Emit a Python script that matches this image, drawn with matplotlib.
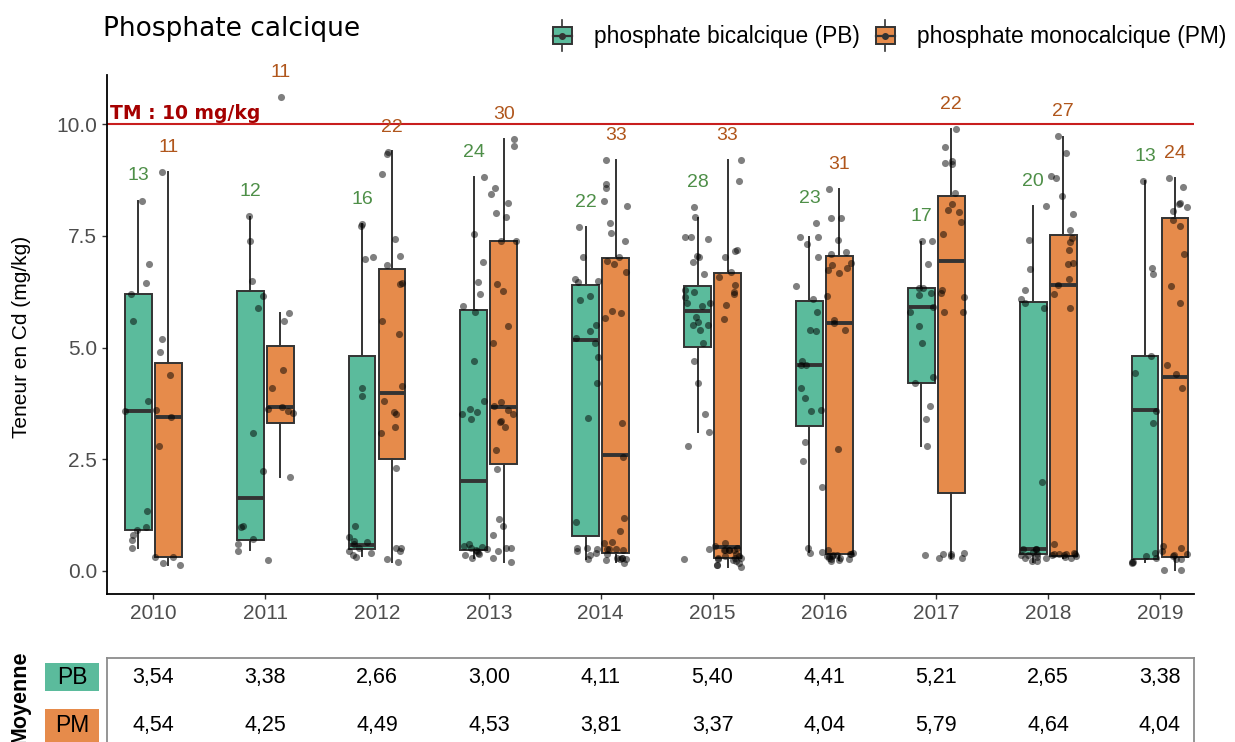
import numpy as np
import matplotlib
matplotlib.use("Agg")
import matplotlib.pyplot as plt
from matplotlib.patches import Rectangle
from matplotlib.lines import Line2D
from matplotlib.legend_handler import HandlerBase

plt.rcParams['font.family'] = ['Liberation Sans', 'DejaVu Sans']

years = [2010, 2011, 2012, 2013, 2014, 2015, 2016, 2017, 2018, 2019]
groups = ['phosphate bicalcique (PB)', 'phosphate monocalcique (PM)']

# effectifs par groupe
pb_n = [13, 12, 16, 24, 22, 28, 23, 17, 20, 13]
pm_n = [11, 11, 22, 30, 33, 33, 31, 22, 27, 24]

# boites : whislo, q1, mediane, q3, whishi
pb_box = [
    [0.51, 0.92, 3.59, 6.20, 8.28],
    [0.47, 0.69, 1.64, 6.27, 7.93],
    [0.33, 0.49, 0.58, 4.82, 7.77],
    [0.30, 0.46, 2.01, 5.84, 8.81],
    [0.26, 0.78, 5.16, 6.40, 7.69],
    [3.10, 5.01, 5.82, 6.37, 7.91],
    [0.42, 3.25, 4.60, 6.04, 7.47],
    [2.80, 4.20, 5.91, 6.34, 7.37],
    [0.21, 0.38, 0.49, 6.02, 8.16],
    [0.20, 0.27, 3.60, 4.82, 8.72],
]
pm_box = [
    [0.13, 0.32, 3.45, 4.66, 8.92],
    [2.11, 3.31, 3.66, 5.04, 5.77],
    [0.21, 2.50, 3.98, 6.76, 9.39],
    [0.21, 2.39, 3.66, 7.39, 9.66],
    [0.21, 0.41, 2.60, 7.01, 9.19],
    [0.10, 0.28, 0.53, 6.66, 9.19],
    [0.25, 0.38, 5.54, 7.05, 8.54],
    [0.28, 1.75, 6.93, 8.40, 9.89],
    [0.30, 0.34, 6.39, 7.52, 9.72],
    [0.02, 0.32, 4.35, 7.91, 8.79],
]

# valeurs individuelles
pb_pts = [
    [8.29, 6.87, 6.45, 6.20, 5.60, 3.80, 3.58, 1.34, 0.99, 0.92, 0.80, 0.69, 0.51],
    [7.94, 7.39, 6.49, 6.16, 5.89, 3.09, 2.24, 1.01, 0.99, 0.72, 0.60, 0.45],
    [7.77, 7.71, 7.03, 6.98, 4.10, 3.92, 1.01, 0.76, 0.68, 0.65, 0.60, 0.52, 0.45, 0.40, 0.35, 0.32],
    [8.82, 7.54, 6.92, 6.47, 6.20, 5.92, 5.80, 4.70, 3.80, 3.62, 3.55, 3.52, 3.40,
     0.60, 0.55, 0.53, 0.52, 0.50, 0.48, 0.45, 0.40, 0.38, 0.35, 0.28],
    [7.70, 7.03, 6.54, 6.49, 6.47, 6.16, 6.06, 5.51, 5.37, 5.22, 5.10, 4.79, 4.21, 3.43,
     1.10, 0.51, 0.50, 0.51, 0.45, 0.40, 0.35, 0.26],
    [8.15, 7.92, 7.48, 7.47, 7.42, 7.05, 7.03, 6.91, 6.65, 6.28, 6.25, 6.13, 5.99, 5.99,
     5.93, 5.69, 5.58, 5.51, 5.50, 5.40, 5.10, 4.70, 4.21, 3.52, 3.10, 2.80, 0.49, 0.27],
    [7.79, 7.48, 7.47, 7.31, 7.03, 6.38, 6.09, 5.80, 5.40, 5.36, 4.70, 4.61, 4.60, 4.10,
     3.87, 3.60, 3.59, 2.89, 2.46, 1.88, 0.51, 0.42, 0.40],
    [7.38, 7.38, 6.87, 6.34, 6.33, 6.22, 6.18, 5.91, 5.80, 5.48, 5.10, 4.35, 4.20, 3.70,
     3.40, 2.80, 0.36],
    [8.17, 7.41, 6.76, 6.29, 6.09, 5.99, 5.88, 1.99, 0.49, 0.49, 0.43, 0.49, 0.38, 0.36,
     0.29, 0.22, 0.22, 0.31, 0.28, 0.36],
    [8.73, 6.78, 6.64, 4.81, 4.43, 3.58, 3.31, 0.40, 0.33, 0.29, 0.21, 0.20, 0.18],
]
pm_pts = [
    [8.93, 5.19, 4.90, 4.39, 3.60, 3.45, 2.80, 0.31, 0.31, 0.18, 0.13],
    [10.60, 5.78, 5.60, 4.50, 4.10, 3.66, 3.62, 3.57, 3.53, 2.10, 0.25],
    [9.38, 9.33, 8.89, 7.43, 7.05, 6.85, 6.45, 6.42, 5.60, 5.30, 4.14, 3.80, 3.56, 3.52,
     3.22, 3.09, 2.31, 0.52, 0.52, 0.45, 0.26, 0.21],
    [9.67, 9.51, 8.57, 8.44, 8.24, 8.02, 7.92, 7.39, 7.39, 6.42, 6.27, 5.48, 5.10, 3.78,
     3.69, 3.60, 3.51, 3.36, 3.34, 3.22, 2.71, 2.28, 1.16, 1.01, 0.81, 0.52, 0.52, 0.45,
     0.30, 0.21],
    [9.20, 8.66, 8.57, 8.27, 8.17, 7.79, 7.56, 7.39, 7.03, 6.94, 6.87, 6.69, 5.82, 5.78,
     5.66, 3.31, 2.56, 1.19, 0.90, 0.65, 0.63, 0.50, 0.47, 0.50, 0.49, 0.29, 0.29, 0.26,
     0.25, 0.37, 0.18, 0.27, 0.30],
    [9.20, 8.73, 7.19, 7.17, 7.02, 6.69, 6.58, 6.40, 6.25, 6.20, 5.95, 5.64, 0.63, 0.55,
     0.52, 0.48, 0.47, 0.47, 0.47, 0.47, 0.38, 0.33, 0.33, 0.29, 0.29, 0.29, 0.26, 0.24,
     0.22, 0.18, 0.13, 0.13, 0.10],
    [8.55, 7.90, 7.90, 7.41, 7.15, 7.10, 6.89, 6.85, 6.78, 6.74, 6.67, 6.16, 5.62, 5.55,
     5.40, 2.73, 0.47, 0.40, 0.39, 0.38, 0.36, 0.35, 0.34, 0.33, 0.33, 0.30, 0.29, 0.27,
     0.26, 0.24, 0.22],
    [9.89, 9.49, 9.18, 9.13, 9.11, 8.47, 8.21, 8.08, 8.04, 7.81, 7.54, 6.29, 6.22, 6.13,
     5.80, 5.80, 0.40, 0.39, 0.38, 0.33, 0.29, 0.28],
    [9.74, 9.35, 8.84, 8.80, 8.40, 8.00, 7.62, 7.45, 7.37, 7.19, 6.90, 6.87, 6.54, 6.40,
     6.20, 5.88, 0.60, 0.41, 0.39, 0.38, 0.37, 0.37, 0.35, 0.35, 0.33, 0.31, 0.28],
    [8.79, 8.59, 8.24, 8.22, 8.15, 8.06, 7.86, 7.73, 7.10, 6.38, 5.99, 4.61, 4.41, 4.10,
     0.56, 0.51, 0.45, 0.38, 0.35, 0.33, 0.26, 0.26, 0.02, 0.02],
]

# moyennes du tableau
pb_mean = [3.54, 3.38, 2.66, 3.00, 4.11, 5.40, 4.41, 5.21, 2.65, 3.38]
pm_mean = [4.54, 4.25, 4.49, 4.53, 3.81, 3.37, 4.04, 5.79, 4.64, 4.04]

tm_limit = 10

col_pb = '#5BBB9C'
col_pm = '#E68B4B'
lab_pb = '#4E8F48'
lab_pm = '#B0561C'
edge = '#333333'
grey_txt = '#4D4D4D'


class BoxHandler(HandlerBase):
    def __init__(self, color):
        super().__init__()
        self.color = color

    def create_artists(self, legend, orig_handle, xdescent, ydescent, width, height, fontsize, trans):
        x0, y0 = -xdescent, -ydescent
        xc = x0 + width / 2
        yc = y0 + height / 2
        whisk = Line2D([xc, xc], [y0 - 0.45 * height, y0 + 1.45 * height], color=edge, lw=1.2, transform=trans)
        rect = Rectangle((x0, y0), width, height, facecolor=self.color, edgecolor=edge, lw=1.4, transform=trans)
        med = Line2D([x0, x0 + width], [yc, yc], color=edge, lw=1.6, transform=trans)
        dot = Line2D([xc], [yc], marker='o', ms=4, color=edge, lw=0, transform=trans)
        return [whisk, rect, med, dot]


W, H = 1235, 742
fig = plt.figure(figsize=(W / 100, H / 100), dpi=100)
ax = fig.add_axes([107 / W, (H - 594) / H, (1194 - 107) / W, (594 - 75) / H])

x = np.arange(len(years))
off = 0.134
bw = 0.24
rng = np.random.default_rng(7)

for boxes, pts, counts, shift, fc, lc in [(pb_box, pb_pts, pb_n, -off, col_pb, lab_pb),
                                          (pm_box, pm_pts, pm_n, off, col_pm, lab_pm)]:
    stats = [dict(whislo=b[0], q1=b[1], med=b[2], q3=b[3], whishi=b[4], fliers=[]) for b in boxes]
    ax.bxp(stats, positions=x + shift, widths=bw, patch_artist=True, showcaps=False,
           showfliers=False, manage_ticks=False,
           boxprops=dict(facecolor=fc, edgecolor=edge, linewidth=1.4),
           medianprops=dict(color=edge, linewidth=2.8, solid_capstyle='butt'),
           whiskerprops=dict(color=edge, linewidth=1.4), zorder=2)
    for i, vals in enumerate(pts):
        jit = rng.uniform(-0.12, 0.12, len(vals))
        ax.scatter(x[i] + shift + jit, vals, s=26, color='black', alpha=0.5,
                   linewidths=0, zorder=3)
        ax.text(x[i] + shift, max(vals) + 0.55, str(counts[i]), color=lc,
                fontsize=14, ha='center', va='center', zorder=4)

ax.axhline(tm_limit, color='#C81E1E', lw=1.5, zorder=1)
ax.text(0.003, tm_limit + 0.12, 'TM : 10 mg/kg', transform=ax.get_yaxis_transform(),
        color='#A50000', fontsize=13.5, fontweight='bold', family='DejaVu Sans', va='baseline')

ax.set_xlim(-0.414, 9.304)
ax.set_ylim(-0.515, 11.1)
ax.set_xticks(x)
ax.set_xticklabels(years)
ax.set_yticks([0, 2.5, 5, 7.5, 10])
ax.set_yticklabels(['%.1f' % v for v in [0, 2.5, 5, 7.5, 10]])
ax.tick_params(colors=edge, labelcolor=grey_txt, labelsize=15, length=3.5, width=1)
for s in ['top', 'right']:
    ax.spines[s].set_visible(False)
for s in ['left', 'bottom']:
    ax.spines[s].set_linewidth(1.3)
    ax.spines[s].set_color('black')

fig.text(22 / W, 1 - 337 / H, 'Teneur en Cd (mg/kg)', rotation=90, fontsize=15,
         ha='center', va='center')
fig.text(103 / W, 1 - 36 / H, 'Phosphate calcique', fontsize=19, family='DejaVu Sans',
         va='baseline')

# legende
hpb = Rectangle((0, 0), 1, 1)
hpm = Rectangle((0, 0), 1, 1, label='pm')
leg = fig.legend([hpb, hpm], groups, loc='center right', bbox_to_anchor=(1226 / W, 1 - 37 / H),
                 ncol=2, frameon=False, fontsize=16.4, handlelength=0.85, handleheight=0.75,
                 handletextpad=0.95, columnspacing=0.7, borderpad=0, borderaxespad=0,
                 handler_map={hpb: BoxHandler(col_pb), hpm: BoxHandler(col_pm)})

# tableau des moyennes
tab = fig.add_axes([107 / W, 0, (1194 - 107) / W, (H - 658) / H])
tab.set_xlim(ax.get_xlim())
tab.set_ylim(0, 1)
tab.set_xticks([])
tab.set_yticks([])
for s in ['top', 'left', 'right']:
    tab.spines[s].set_color('#8C8C8C')
    tab.spines[s].set_linewidth(1.3)
tab.spines['bottom'].set_visible(False)
for i in range(len(years)):
    tab.text(x[i], (H - 677) / (H - 658), ('%.2f' % pb_mean[i]).replace('.', ','),
             fontsize=15.5, ha='center', va='center')
    tab.text(x[i], (H - 725) / (H - 658), ('%.2f' % pm_mean[i]).replace('.', ','),
             fontsize=15.5, ha='center', va='center')

for lab, fc, ytop, hgt in [('PB', col_pb, 663, 28), ('PM', col_pm, 709, 33)]:
    fig.add_artist(Rectangle((45 / W, 1 - (ytop + hgt) / H), 54 / W, hgt / H,
                             transform=fig.transFigure, facecolor=fc, edgecolor='none'))
fig.text(72 / W, 1 - 677 / H, 'PB', fontsize=16.5, ha='center', va='center')
fig.text(72 / W, 1 - 725 / H, 'PM', fontsize=16.5, ha='center', va='center')
fig.text(20 / W, 1 - 697 / H, 'Moyenne', rotation=90, fontsize=15.5, fontweight='bold',
         ha='center', va='center')

fig.savefig('out.png', dpi=100)
